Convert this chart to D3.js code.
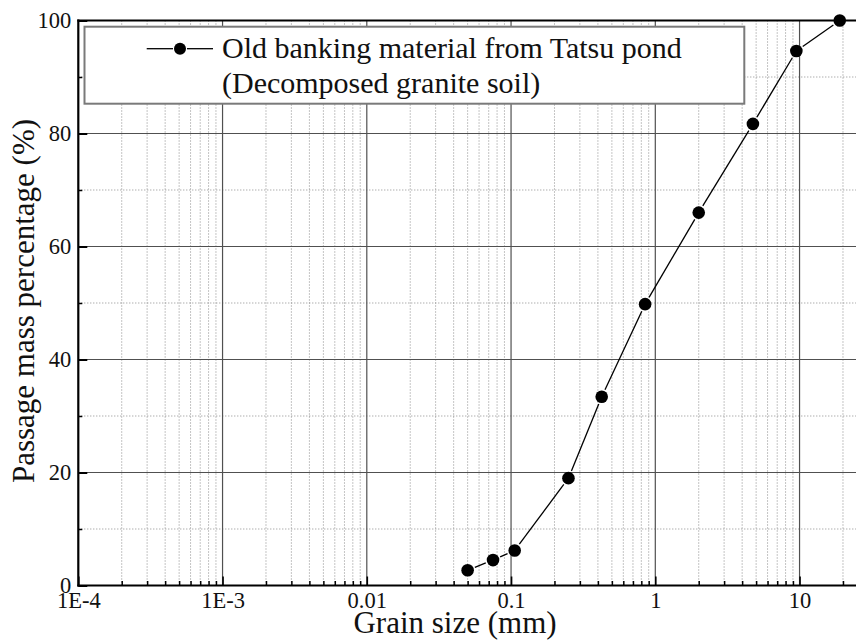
<!DOCTYPE html>
<html>
<head>
<meta charset="utf-8">
<script src="https://cdn.jsdelivr.net/npm/d3@7"></script>
<style>
  html, body { margin: 0; padding: 0; background: #fff; }
  svg { display: block; }
  text { font-family: "Liberation Serif", "Times New Roman", serif; fill: #111; }
</style>
</head>
<body>
<svg id="chart" width="856" height="641"></svg>
<script>
// Grain size distribution (sieve analysis)
const grainSize = [0.05, 0.075, 0.106, 0.25, 0.425, 0.85, 2.0, 4.75, 9.5, 19.0];   // mm
const passing   = [2.7, 4.5, 6.2, 19.0, 33.4, 49.8, 66.0, 81.7, 94.6, 100.0];     // %

const xTickValues = [1e-4, 1e-3, 0.01, 0.1, 1, 10];
const xTickLabels = ["1E-4", "1E-3", "0.01", "0.1", "1", "10"];
const yTickValues = [0, 20, 40, 60, 80, 100];
const yMinorValues = [10, 30, 50, 70, 90];

const seriesName = ["Old banking material from Tatsu pond", "(Decomposed granite soil)"];
const xTitle = "Grain size (mm)";
const yTitle = "Passage mass percentage (%)";

const W = 856, H = 641;
const plotLeft = 78.3, plotTop = 20.5, plotBottom = 585.5;
const xMax = 25;
const decadePx = 144.25;
const serif = "'Liberation Serif', 'Times New Roman', serif";

const svg = d3.select("#chart");

const x = d3.scaleLog()
  .domain([1e-4, xMax])
  .range([plotLeft, plotLeft + Math.log10(xMax / 1e-4) * decadePx]);
const y = d3.scaleLinear().domain([0, 100]).range([plotBottom, plotTop]);

// minor x positions: 2..9 within each decade, inside the domain
const xMinor = [];
for (let e = -4; e <= 1; e++) {
  for (let m = 2; m <= 9; m++) {
    const v = m * Math.pow(10, e);
    if (v < xMax) xMinor.push(v);
  }
}

const grid = svg.append("g");
// dotted minor grid
grid.selectAll(".vminor").data(xMinor).join("line")
  .attr("x1", d => x(d)).attr("x2", d => x(d))
  .attr("y1", plotTop).attr("y2", plotBottom)
  .attr("stroke", "#8a8a8a").attr("stroke-width", 1)
  .attr("stroke-dasharray", "1,2");
grid.selectAll(".hminor").data(yMinorValues).join("line")
  .attr("x1", plotLeft).attr("x2", W)
  .attr("y1", d => y(d)).attr("y2", d => y(d))
  .attr("stroke", "#8a8a8a").attr("stroke-width", 1)
  .attr("stroke-dasharray", "1,2");
// solid major grid
grid.selectAll(".vmajor").data(xTickValues.slice(1)).join("line")
  .attr("x1", d => x(d)).attr("x2", d => x(d))
  .attr("y1", plotTop).attr("y2", plotBottom)
  .attr("stroke", "#505050").attr("stroke-width", 1.2);
grid.selectAll(".hmajor").data(yTickValues.slice(1, -1)).join("line")
  .attr("x1", plotLeft).attr("x2", W)
  .attr("y1", d => y(d)).attr("y2", d => y(d))
  .attr("stroke", "#505050").attr("stroke-width", 1.2);

// axes
const xAxis = d3.axisBottom(x)
  .tickValues(xTickValues)
  .tickFormat((d, i) => xTickLabels[i])
  .tickSize(-9).tickPadding(7);
const gx = svg.append("g").attr("transform", `translate(0,${plotBottom})`).call(xAxis);
gx.attr("font-family", serif);
gx.select(".domain").remove();
gx.selectAll(".tick line").attr("stroke", "#000").attr("stroke-width", 1.6);
gx.selectAll(".tick text").attr("font-size", 22.5).attr("fill", "#111");

const xAxisMinor = d3.axisBottom(x).tickValues(xMinor).tickFormat("").tickSize(-4.5);
const gxm = svg.append("g").attr("transform", `translate(0,${plotBottom})`).call(xAxisMinor);
gxm.select(".domain").remove();
gxm.selectAll(".tick line").attr("stroke", "#000").attr("stroke-width", 1.5);

const yAxis = d3.axisLeft(y).tickValues(yTickValues).tickSize(-9).tickPadding(7);
const gy = svg.append("g").attr("transform", `translate(${plotLeft},0)`).call(yAxis);
gy.attr("font-family", serif);
gy.select(".domain").remove();
gy.selectAll(".tick line").attr("stroke", "#000").attr("stroke-width", 2);
gy.selectAll(".tick text").attr("font-size", 22.5).attr("fill", "#111");

const yAxisMinor = d3.axisLeft(y).tickValues(yMinorValues).tickFormat("").tickSize(-4);
const gym = svg.append("g").attr("transform", `translate(${plotLeft},0)`).call(yAxisMinor);
gym.select(".domain").remove();
gym.selectAll(".tick line").attr("stroke", "#000").attr("stroke-width", 1.5);

// frame lines
svg.append("line").attr("x1", plotLeft).attr("x2", plotLeft).attr("y1", plotTop - 1).attr("y2", plotBottom + 1)
  .attr("stroke", "#000").attr("stroke-width", 2.2);
svg.append("line").attr("x1", plotLeft - 1).attr("x2", W).attr("y1", plotBottom).attr("y2", plotBottom)
  .attr("stroke", "#000").attr("stroke-width", 2.2);
svg.append("line").attr("x1", plotLeft - 1).attr("x2", W).attr("y1", plotTop).attr("y2", plotTop)
  .attr("stroke", "#000").attr("stroke-width", 2);

// data: connecting segments with small gaps around markers
const pts = grainSize.map((g, i) => [x(g), y(passing[i])]);
const r = 6.3, gap = r + 1.5;
const segs = d3.pairs(pts).map(([a, b]) => {
  const dx = b[0] - a[0], dy = b[1] - a[1];
  const L = Math.hypot(dx, dy);
  const ux = dx / L, uy = dy / L;
  return [a[0] + ux * gap, a[1] + uy * gap, b[0] - ux * gap, b[1] - uy * gap, L];
}).filter(s => s[4] > 2 * gap);
svg.append("g").selectAll("line").data(segs).join("line")
  .attr("x1", d => d[0]).attr("y1", d => d[1])
  .attr("x2", d => d[2]).attr("y2", d => d[3])
  .attr("stroke", "#000").attr("stroke-width", 1.3);
svg.append("g").selectAll("circle").data(grainSize).join("circle")
  .attr("cx", d => x(d)).attr("cy", (d, i) => y(passing[i]))
  .attr("r", r).attr("fill", "#000");

// legend
const lg = svg.append("g");
lg.append("rect").attr("x", 84.5).attr("y", 26.7).attr("width", 659.8).attr("height", 77)
  .attr("fill", "#fff").attr("stroke", "#7a7a7a").attr("stroke-width", 2);
lg.append("line").attr("x1", 146.7).attr("x2", 173).attr("y1", 48.7).attr("y2", 48.7)
  .attr("stroke", "#000").attr("stroke-width", 1.3);
lg.append("line").attr("x1", 187).attr("x2", 213).attr("y1", 48.7).attr("y2", 48.7)
  .attr("stroke", "#000").attr("stroke-width", 1.3);
lg.append("circle").attr("cx", 180).attr("cy", 48.7).attr("r", 6).attr("fill", "#000");
lg.selectAll("text").data(seriesName).join("text")
  .attr("x", 222).attr("y", (d, i) => 58 + i * 35)
  .attr("font-size", 30).text(d => d);

// axis titles
svg.append("text").attr("x", 455).attr("y", 632.5).attr("text-anchor", "middle")
  .attr("font-size", 31).text(xTitle);
svg.append("text").attr("transform", "translate(33.5,301) rotate(-90)")
  .attr("text-anchor", "middle").attr("font-size", 31).text(yTitle);
</script>
</body>
</html>
